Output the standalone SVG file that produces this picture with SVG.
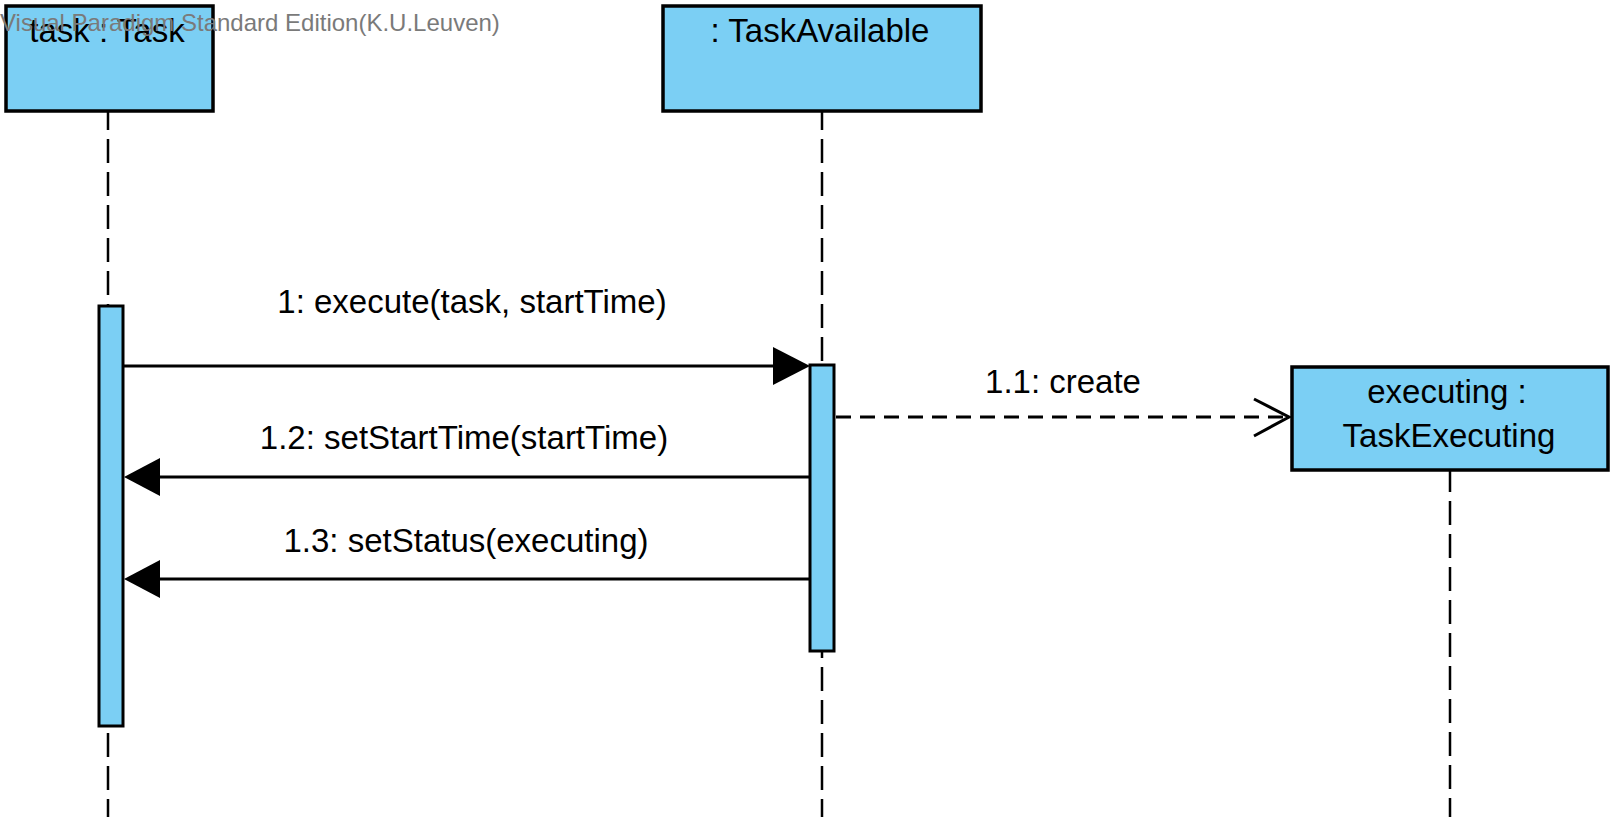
<svg xmlns="http://www.w3.org/2000/svg" width="1623" height="828" viewBox="0 0 1623 828">
<style>
.box{fill:#7BCFF4;stroke:#000;stroke-width:3.5}
.act{fill:#7BCFF4;stroke:#000;stroke-width:3}
.life{stroke:#000;stroke-width:2.5;stroke-dasharray:24 9;fill:none}
.msg{stroke:#000;stroke-width:3;fill:none}
.dash{stroke:#000;stroke-width:3;fill:none;stroke-dasharray:15 9}
.head{fill:#000}
.open{stroke:#000;stroke-width:3;fill:none}
text{font-family:"Liberation Sans",Arial,sans-serif;font-size:33px;fill:#000}
.lbl{text-anchor:middle}
.wm{font-size:24px;fill:#7a7a7a}
</style>
<g id="lifelines">
<line class="life" x1="108" y1="111" x2="108" y2="817" stroke-dashoffset="5"/>
<line class="life" x1="822" y1="111" x2="822" y2="817" stroke-dashoffset="5"/>
<line class="life" x1="1450" y1="471" x2="1450" y2="817" stroke-dashoffset="3"/>
</g>
<g id="task">
<rect class="box" x="6" y="6" width="207" height="105"/>
<text class="lbl" x="107" y="42">task : Task</text>
</g>
<g id="taskAvailable">
<rect class="box" x="663" y="6" width="318" height="105"/>
<text class="lbl" x="820" y="42">: TaskAvailable</text>
</g>
<g id="executing">
<rect class="box" x="1292" y="367" width="316" height="103"/>
<text class="lbl" x="1447" y="403">executing :</text>
<text class="lbl" x="1449" y="447">TaskExecuting</text>
</g>
<g id="activation-task">
<rect class="act" x="99" y="306" width="24" height="420"/>
</g>
<g id="activation-taskAvailable">
<rect class="act" x="810" y="365" width="24" height="286"/>
</g>
<g id="connectors">
<line class="msg" x1="123" y1="366" x2="775" y2="366"/>
<polygon class="head" points="810,366 773,347 773,385"/>
<text class="lbl" x="472" y="313">1: execute(task, startTime)</text>
<line class="dash" x1="836" y1="417" x2="1287" y2="417"/>
<polyline class="open" points="1254,399 1289,417 1254,436"/>
<text class="lbl" x="1063" y="393">1.1: create</text>
<line class="msg" x1="810" y1="477" x2="158" y2="477"/>
<polygon class="head" points="124,477 160,458 160,496"/>
<text class="lbl" x="464" y="449">1.2: setStartTime(startTime)</text>
<line class="msg" x1="810" y1="579" x2="158" y2="579"/>
<polygon class="head" points="124,579 160,560 160,598"/>
<text class="lbl" x="466" y="552">1.3: setStatus(executing)</text>
</g>
<text class="wm" x="0" y="31">Visual Paradigm Standard Edition(K.U.Leuven)</text>
</svg>
